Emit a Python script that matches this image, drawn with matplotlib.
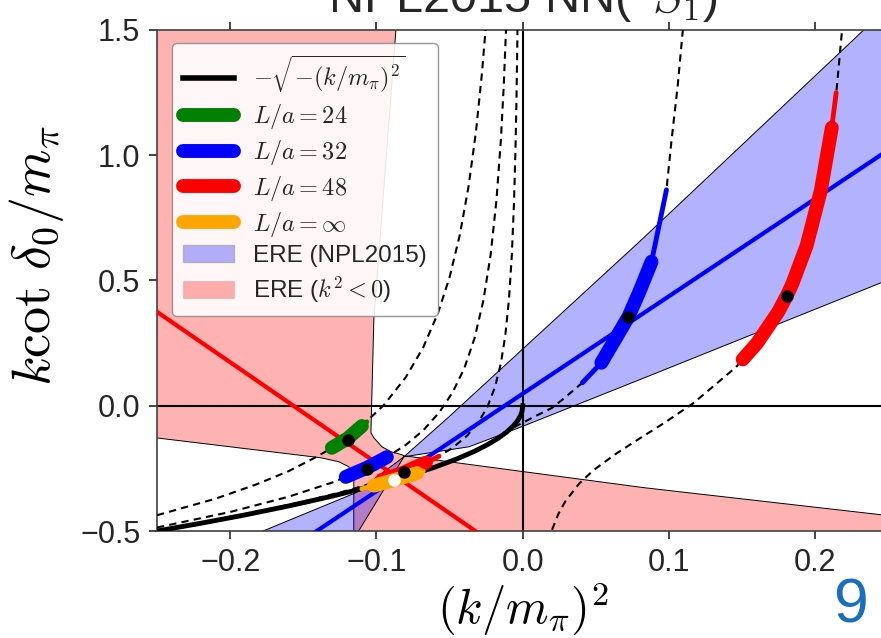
import matplotlib
matplotlib.use("Agg")
import matplotlib.pyplot as plt
from matplotlib.lines import Line2D
from matplotlib.patches import Patch

plt.rcParams['font.family'] = ['Liberation Sans', 'DejaVu Sans']
plt.rcParams['mathtext.fontset'] = 'cm'

# ---- data ----
# bound state curve  -sqrt(-(k/mpi)^2)
sq_x = [-0.25, -0.22, -0.19, -0.16, -0.13, -0.1, -0.08, -0.06, -0.045, -0.033,
        -0.024, -0.017, -0.011, -0.0065, -0.0035, -0.0015, -0.0005, 0.0]
sq_y = [-0.5, -0.469, -0.4359, -0.4, -0.3606, -0.3162, -0.2828, -0.2449, -0.2121,
        -0.1817, -0.1549, -0.1304, -0.1049, -0.0806, -0.0592, -0.0387, -0.0224, 0.0]

# finite volume (Luscher) curves, dashed
l24_x = [-0.25, -0.21, -0.1826, -0.16, -0.14, -0.1196, -0.11, -0.095, -0.08, -0.068,
         -0.058, -0.05, -0.043, -0.037, -0.032, -0.028, -0.0258, -0.0245, -0.0235]
l24_y = [-0.437, -0.371, -0.315, -0.261, -0.201, -0.130, -0.081, 0.0026, 0.1133, 0.2336,
         0.369, 0.514, 0.683, 0.878, 1.094, 1.322, 1.476, 1.581, 1.67]
l32_x = [-0.25, -0.2, -0.16, -0.13, -0.1066, -0.095, -0.08, -0.068, -0.057, -0.048,
         -0.04, -0.033, -0.027, -0.022, -0.018, -0.015, -0.013, -0.0114, -0.0103]
l32_y = [-0.486, -0.424, -0.363, -0.306, -0.248, -0.213, -0.1565, -0.098, -0.026, 0.053,
         0.149, 0.269, 0.418, 0.602, 0.820, 1.059, 1.279, 1.51, 1.70]
l48_x = [-0.25, -0.2, -0.15, -0.12, -0.1, -0.08, -0.06, -0.048, -0.038, -0.03, -0.024,
         -0.019, -0.015, -0.012, -0.0095, -0.0075, -0.006, -0.005, -0.0043, -0.0037, -0.0034]
l48_y = [-0.4991, -0.4453, -0.3828, -0.3387, -0.304, -0.2635, -0.211, -0.168, -0.1193,
         -0.0633, -0.0018, 0.0748, 0.169, 0.2788, 0.4206, 0.600, 0.812, 1.023, 1.229, 1.467, 1.617]
l48p_x = [0.0175, 0.0194, 0.0243, 0.0291, 0.0388, 0.0485, 0.0631, 0.0776, 0.097, 0.1164,
          0.1455, 0.16, 0.1746, 0.1805, 0.1843, 0.194, 0.2037, 0.2134, 0.2183, 0.2231]
l48p_y = [-0.543, -0.504, -0.432, -0.381, -0.309, -0.2565, -0.194, -0.139, -0.0674, 0.0096,
          0.153, 0.249, 0.375, 0.44, 0.488, 0.639, 0.859, 1.193, 1.506, 1.94]
l32p_x = [-0.25, -0.2, -0.15, -0.1, -0.07, -0.045, -0.03, -0.02, -0.013, -0.0073, 0.0064,
          0.0201, 0.027, 0.0407, 0.0537, 0.0722, 0.0797, 0.088, 0.0982, 0.1017, 0.1058,
          0.1092, 0.1105]
l32p_y = [-0.504, -0.451, -0.391, -0.320, -0.268, -0.216, -0.176, -0.144, -0.116, -0.09,
          -0.048, -0.008, 0.024, 0.0918, 0.1717, 0.3553, 0.455, 0.575, 0.862, 1.062, 1.273,
          1.489, 1.58]

# ERE straight lines
ere_x = [-0.15, 0.26]
ere_y = [-0.5357, 1.0605]
ereneg_x = [-0.26, -0.02]
ereneg_y = [0.415, -0.55]

# ERE (NPL2015) band edges
band_a_x = [-0.1175, -0.1121, -0.0812, -0.0504, 0.0797, 0.2332, 0.25]
band_a_y = [-0.55, -0.499, -0.2036, -0.0439, 0.6547, 1.501, 1.59]
band_b_x = [-0.185, -0.1771, -0.114, -0.0812, -0.0367, -0.0025, 0.0832, 0.2449, 0.25]
band_b_y = [-0.52, -0.499, -0.347, -0.2036, -0.1637, -0.0878, 0.1118, 0.491, 0.504]

# ERE (k^2<0) region outline
neg_x = [-0.30, -0.0853, -0.0867, -0.1018, -0.1038, -0.1018, -0.0963, -0.0901, -0.0826,
         -0.0812, 0.0832, 0.2449, 0.30, 0.30, -0.1155, -0.1155, -0.1189, -0.1257, -0.138,
         -0.2511, -0.30]
neg_y = [1.6, 1.6, 1.501, 0.343, -0.1078, -0.1277, -0.1637, -0.1836, -0.1956, -0.1996,
         -0.3273, -0.4351, -0.4718, -0.6, -0.6, -0.2874, -0.2435, -0.2236, -0.2076,
         -0.1277, -0.093]

# lattice levels: thick (statistical) / thin (total) pieces and central values
g_thin_x = [-0.1326, -0.1196, -0.1066]
g_thin_y = [-0.175, -0.130, -0.064]
g_thick_x = [-0.1305, -0.1196, -0.110]
g_thick_y = [-0.168, -0.130, -0.081]
g_pt = (-0.1196, -0.138)

b_thin_x = [-0.123, -0.1066, -0.091]
b_thin_y = [-0.289, -0.248, -0.199]
b_thick_x = [-0.121, -0.1066, -0.0929]
b_thick_y = [-0.284, -0.248, -0.205]
b_pt = (-0.1066, -0.2515)

b2_thin_x = [0.0407, 0.0537, 0.0722, 0.0797, 0.088, 0.0982]
b2_thin_y = [0.0918, 0.1717, 0.3553, 0.455, 0.575, 0.862]
b2_thick_x = [0.0537, 0.0722, 0.0797, 0.088]
b2_thick_y = [0.1717, 0.3553, 0.455, 0.575]
b2_pt = (0.0722, 0.3553)

r_thin_x = [-0.099, -0.0812, -0.0662, -0.0573]
r_thin_y = [-0.302, -0.266, -0.227, -0.2013]
r_thick_x = [-0.0963, -0.0812, -0.0662]
r_thick_y = [-0.2965, -0.266, -0.227]
r_pt = (-0.0812, -0.264)

r2_thin_x = [0.2037, 0.2112, 0.2142]
r2_thin_y = [0.859, 1.11, 1.25]
r2_thick_x = [0.1503, 0.16, 0.1746, 0.1805, 0.1843, 0.194, 0.2037, 0.2112]
r2_thick_y = [0.185, 0.249, 0.375, 0.44, 0.488, 0.639, 0.859, 1.11]
r2_pt = (0.1805, 0.44)

o_thin_x = [-0.11, -0.1018, -0.088, -0.0723, -0.068]
o_thin_y = [-0.3317, -0.319, -0.2966, -0.2689, -0.2608]
o_thick_x = [-0.1018, -0.088, -0.0723]
o_thick_y = [-0.319, -0.2966, -0.2689]
o_pt = (-0.088, -0.2966)

xticks = [-0.2, -0.1, 0.0, 0.1, 0.2]
yticks = [-0.5, 0.0, 0.5, 1.0, 1.5]

# ---- figure ----
fig = plt.figure(figsize=(8.81, 6.38), dpi=100)
ax = fig.add_axes([0.1782, 0.1677, 0.8304, 0.7853])

ax.fill(neg_x, neg_y, facecolor=(1, 0, 0, 0.3), edgecolor='k', lw=0.7, zorder=1)
ax.fill(band_a_x + band_b_x[::-1], band_a_y + band_b_y[::-1],
        facecolor=(0, 0, 1, 0.3), edgecolor='k', lw=0.7, zorder=1.1)

ax.axhline(0, color='k', lw=1.5, zorder=2)
ax.axvline(0, color='k', lw=1.5, zorder=2)

dash = (0, (3.5, 2.5))
for xs, ys in [(l24_x, l24_y), (l32_x, l32_y), (l48_x, l48_y),
               (l48p_x, l48p_y), (l32p_x, l32p_y)]:
    ax.plot(xs, ys, color='k', lw=1.5, ls=dash, zorder=3)

ax.plot(ere_x, ere_y, color='b', lw=3, zorder=3.5)
ax.plot(ereneg_x, ereneg_y, color='r', lw=3, zorder=3.5)
ax.plot(sq_x, sq_y, color='k', lw=3.5, zorder=4)

levels = [
    ('green', g_thin_x, g_thin_y, g_thick_x, g_thick_y, g_pt, 'k'),
    ('blue', b_thin_x, b_thin_y, b_thick_x, b_thick_y, b_pt, 'k'),
    ('blue', b2_thin_x, b2_thin_y, b2_thick_x, b2_thick_y, b2_pt, 'k'),
    ('red', r_thin_x, r_thin_y, r_thick_x, r_thick_y, r_pt, 'k'),
    ('red', r2_thin_x, r2_thin_y, r2_thick_x, r2_thick_y, r2_pt, 'k'),
    ('orange', o_thin_x, o_thin_y, o_thick_x, o_thick_y, o_pt, 'w'),
]
z = 5
for col, tx, ty, kx, ky, pt, mc in levels:
    ax.plot(tx, ty, color=col, lw=3.5, solid_capstyle='round', zorder=z)
    ax.plot(kx, ky, color=col, lw=10, solid_capstyle='round',
            solid_joinstyle='round', zorder=z)
    z += 0.1
for col, tx, ty, kx, ky, pt, mc in levels:
    ax.plot(pt[0], pt[1], 'o', color=mc, ms=9, mec='none', zorder=7)

ax.set_xlim(-0.25, 0.25)
ax.set_ylim(-0.5, 1.5)
ax.set_xticks(xticks)
ax.set_yticks(yticks)
ax.tick_params(direction='out', length=6, width=1.2, labelsize=22,
               colors='#262626', top=True, right=True, pad=6)
for s in ax.spines.values():
    s.set_color('#404040')
    s.set_linewidth(1.2)

ax.set_title('NPL2015 NN($^1S_1$)', fontsize=35, color='#262626', pad=12)
ax.set_xlabel(r'$(k/m_\pi)^2$', fontsize=35, labelpad=2)
ax.set_ylabel(r'$k\cot\,\delta_0/m_\pi$', fontsize=39)
ax.yaxis.set_label_coords(-0.125, 0.55)

handles = [
    Line2D([], [], color='k', lw=4),
    Line2D([], [], color='green', lw=10, solid_capstyle='round'),
    Line2D([], [], color='blue', lw=10, solid_capstyle='round'),
    Line2D([], [], color='red', lw=10, solid_capstyle='round'),
    Line2D([], [], color='orange', lw=10, solid_capstyle='round'),
    Patch(facecolor=(0, 0, 1, 0.3), edgecolor=(0.6, 0.6, 0.6, 0.6)),
    Patch(facecolor=(1, 0, 0, 0.3), edgecolor=(0.6, 0.6, 0.6, 0.3)),
]
labels = [r'$-\sqrt{-(k/m_\pi)^2}$', r'$L/a=24$', r'$L/a=32$', r'$L/a=48$',
          r'$L/a=\infty$', 'ERE (NPL2015)', r'ERE ($k^2<0$)']
leg = ax.legend(handles, labels, loc='upper left', bbox_to_anchor=(0.0205, 0.974),
                borderaxespad=0, fontsize=17.5, handlelength=2.1, handletextpad=0.78,
                labelspacing=0.28, borderpad=0.45, framealpha=0.9, edgecolor='0.55')
for t in leg.get_texts():
    t.set_color('#262626')

fig.text(0.965, 0.025, '9', color='#1a6ec0', fontsize=45, ha='center', va='baseline')

fig.savefig('out.png', dpi=100)
